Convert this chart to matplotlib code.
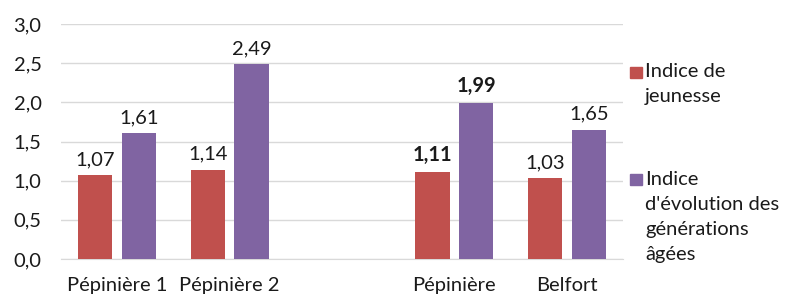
import numpy as np
import matplotlib.pyplot as plt
from matplotlib.patches import Rectangle

plt.rcParams['font.family'] = ['Lato', 'DejaVu Sans']

# data
categories = ['Pépinière 1', 'Pépinière 2', '', 'Pépinière', 'Belfort']
jeunesse = [1.07, 1.14, np.nan, 1.11, 1.03]
evolution = [1.61, 2.49, np.nan, 1.99, 1.65]
bold_labels = [False, False, False, True, False]
series_names = ['Indice de\njeunesse', "Indice\nd'évolution des\ngénérations\nâgées"]
colors = ['#C0504D', '#8064A2']

H = 295.0
W = 794.0
fs = 14.5

fig = plt.figure(figsize=(7.94, 2.95), dpi=100)
ax = fig.add_axes([61 / W, 1 - 259 / H, 562 / W, 235 / H])

x = np.arange(len(categories))
w = 0.305
off = 0.195
for vals, dx, col in [(jeunesse, -off, colors[0]), (evolution, off, colors[1])]:
    ax.bar(x + dx, vals, width=w, color=col, zorder=3)
    for xi, v, b in zip(x, vals, bold_labels):
        if np.isnan(v):
            continue
        ax.annotate(f'{v:.2f}'.replace('.', ','), (xi + dx, v), xytext=(0, 5),
                    textcoords='offset points', ha='center', va='bottom',
                    fontsize=fs, fontweight='bold' if b else 'normal', color='#1a1a1a')

ax.set_xlim(-0.5, len(categories) - 0.5)
ax.set_ylim(0, 3)
yt = np.arange(0, 3.01, 0.5)
ax.set_yticks(yt)
ax.set_yticklabels([f'{t:.1f}'.replace('.', ',') for t in yt])
ax.set_xticks(x)
ax.set_xticklabels(categories)
ax.tick_params(length=0, labelsize=fs, colors='#1a1a1a')
ax.tick_params(axis='x', pad=13)
ax.tick_params(axis='y', pad=14)
ax.grid(axis='y', color='#d9d9d9', linewidth=1, zorder=0)
for s in ['top', 'right', 'left']:
    ax.spines[s].set_visible(False)
ax.spines['bottom'].set_color('#d9d9d9')

# legend drawn by hand so the square sits on the first line
for name, col, sq_top, base in zip(series_names, colors, [67, 174], [77, 185]):
    fig.patches.append(Rectangle((630 / W, 1 - (sq_top + 11) / H), 12 / W, 11 / H,
                                 transform=fig.transFigure, color=col))
    for i, line in enumerate(name.split('\n')):
        fig.text(645 / W, 1 - (base + 25 * i) / H, line, fontsize=fs,
                 va='baseline', ha='left', color='#1a1a1a')

plt.savefig('out.png', dpi=100)
